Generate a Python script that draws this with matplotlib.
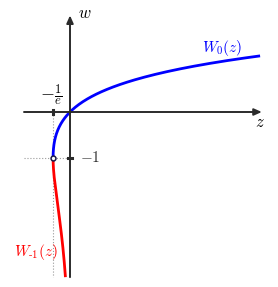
import numpy as np
import matplotlib
matplotlib.use("Agg")
import matplotlib.pyplot as plt

plt.rcParams["mathtext.fontset"] = "cm"

# branch ranges (w values) of the Lambert W function, z = w * e^w
w0_range = [-1.0, 1.22]
wm1_range = [-3.59, -1.0]
branch_point = (-1 / np.e, -1.0)

z_axis = [-1.0, 4.17]
w_axis = [-3.59, 2.1]

fig = plt.figure(figsize=(2.78, 2.87), dpi=100)
ax = fig.add_axes([0, 0, 1, 1])
ax.set_xlim(-70 / 46, 208 / 46)
ax.set_ylim(-175 / 46, 112 / 46)
ax.axis("off")

axc = "#2b2b2b"
# axes with arrows
arrow = dict(arrowstyle="-|>,head_length=0.45,head_width=0.2", color=axc, lw=1.4, shrinkA=0, shrinkB=0)
ax.annotate("", xy=(z_axis[1], 0), xytext=(z_axis[0], 0), arrowprops=arrow)
ax.annotate("", xy=(0, w_axis[1]), xytext=(0, w_axis[0]), arrowprops=arrow)

# dotted guides
ax.plot([z_axis[0], 0], [-1, -1], ls=":", color="#999999", lw=0.8)
ax.plot([branch_point[0], branch_point[0]], [0, w_axis[0]], ls=":", color="#999999", lw=0.8)

# ticks
ax.plot([branch_point[0]] * 2, [-0.045, 0.045], color=axc, lw=2.2)
ax.plot([-0.045, 0.045], [-1, -1], color=axc, lw=2.2)

w = np.linspace(w0_range[0], w0_range[1], 300)
ax.plot(w * np.exp(w), w, color="#0000ff", lw=2, solid_capstyle="butt")
w = np.linspace(wm1_range[0], wm1_range[1], 300)
ax.plot(w * np.exp(w), w, color="#ff0000", lw=2, solid_capstyle="butt")

ax.plot(*branch_point, marker="o", ms=3.5, mfc="white", mec="#1a1a4a", mew=1.1, zorder=5)

ax.text(0.18, w_axis[1] + 0.05, "$w$", fontsize=12, va="center", ha="left")
ax.text(z_axis[1] - 0.05, -0.22, "$z$", fontsize=12, va="center", ha="center")
ax.text(branch_point[0] - 0.04, 0.38, r"$-\frac{1}{e}$", fontsize=13, va="center", ha="center")
ax.text(0.22, -1, "$-1$", fontsize=11, color="#333333", va="center", ha="left")
ax.text(3.3, 1.4, "$W_0(z)$", fontsize=11, color="#0000ff", va="center", ha="center")
ax.text(-0.75, -3.05, "$W_{\\text{-}1}(z)$", fontsize=11, color="#ff0000", va="center", ha="center")

fig.savefig("out.png", dpi=100)
